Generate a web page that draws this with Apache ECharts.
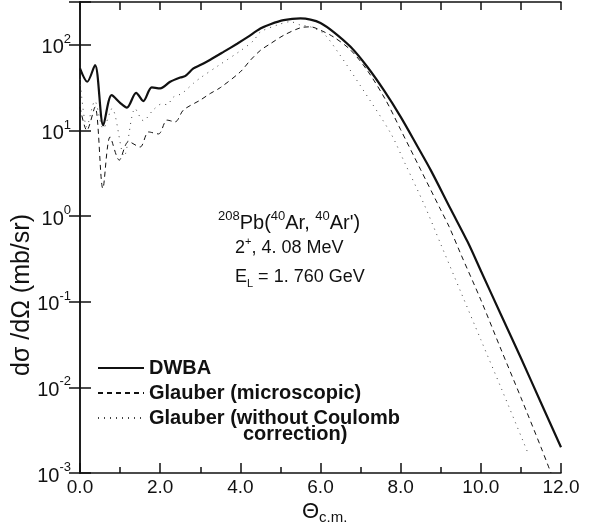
<!DOCTYPE html>
<html><head><meta charset="utf-8">
<script src="https://cdn.jsdelivr.net/npm/echarts@6/dist/echarts.min.js"></script>
<style>html,body{margin:0;padding:0;background:#fff}#c{width:608px;height:529px}</style>
</head><body><div id="c"></div>
<script>
// ---- data ----
const dwbaTheta = [0.0,0.18,0.375,0.58,0.79,1.0,1.17,1.4,1.58,1.79,2.0,2.25,2.5,2.62,2.83,3.0,3.25,3.58,3.92,4.17,4.5,4.75,5.08,5.5,5.75,6.0,6.33,6.75,7.17,7.58,8.0,8.42,8.75,9.25,9.67,10.0,10.5,11.0,11.5,12.0];
const dwbaValue = [53,37,58,11.5,25.8,21,18.5,27.5,22,31.8,31,37,41.5,43,52.9,58,67,82.6,103,122,155,174,194,203,197,180,141,94.6,55,29.5,14.4,6.5,3.44,1.2,0.5,0.23,0.071,0.022,0.0066,0.002];

const glauberTheta = [0.0,0.17,0.375,0.57,0.75,0.98,1.21,1.5,1.71,1.96,2.17,2.375,2.58,3.0,3.25,3.5,4.0,4.25,4.5,4.75,5.08,5.5,5.75,6.0,6.33,6.75,7.17,7.63,8.0,8.5,9.0,9.21,9.5,10.0,10.5,11.0,11.5,11.75];
const glauberValue = [18.8,10,18.8,2.1,8.4,4.5,7.4,6.4,9.6,9.1,13.2,12.6,17.3,22.6,27,31.6,48.3,66,86,103,129,158,162,148,123,87,50,22.5,10.2,3.47,1.18,0.75,0.36,0.105,0.028,0.0076,0.002,0.001];

const noCoulTheta = [0.0,0.17,0.37,0.58,0.8,1.1,1.375,1.58,1.83,2.04,2.17,2.33,2.54,2.83,3.0,3.46,4.0,4.33,4.5,4.92,5.25,5.5,5.75,6.08,6.46,7.0,7.75,8.1,8.6,9.0,9.5,10.0,10.5,11.08,11.2];
const noCoulValue = [40,11,22,10.5,18,5,18,13,17.4,20.4,20,24.5,27,35.5,41,57.5,85,112,141,170,186,170,162,135,79,33,9.3,4.2,1.32,0.47,0.13,0.036,0.01,0.0022,0.0016];

const seriesNames = ['DWBA','Glauber (microscopic)','Glauber (without Coulomb'];
const xTickLabels = ['0.0','2.0','4.0','6.0','8.0','10.0','12.0'];
const yTickExponents = ['-3','-2','-1','0','1','2'];

const FONT = '"Liberation Sans", Arial, Helvetica, sans-serif';
const INK = '#111';

function pairs(t, v){ return t.map((x,i)=>[x, v[i]]); }

const chart = echarts.init(document.getElementById('c'), null, {renderer:'canvas'});

const yLabelFmt = function(val){
  const l = Math.log10(val);
  const e = Math.round(l);
  if (Math.abs(l - e) > 1e-6) return '';
  const s = String(e);
  if (yTickExponents.indexOf(s) < 0) return '';
  return '{b|10}{s|' + s + '}';
};

const option = {
  backgroundColor:'#fff',
  animation:false,
  grid:{left:80, right:47, top:2, bottom:56},
  xAxis:[
    {type:'value', min:0, max:12, interval:2, position:'bottom',
     axisLine:{show:true, lineStyle:{color:INK, width:1.5}},
     axisTick:{show:true, inside:true, length:10, lineStyle:{color:INK, width:1.5}},
     minorTick:{show:true, splitNumber:2, length:6, lineStyle:{color:INK, width:1.5}},
     splitLine:{show:false}, minorSplitLine:{show:false},
     axisLabel:{fontSize:19, fontFamily:FONT, color:INK, margin:5,
       formatter:function(v){ const i = Math.round(v/2); return xTickLabels[i] || ''; }}
    },
    {type:'value', min:0, max:12, interval:1, position:'top',
     axisLine:{show:true, lineStyle:{color:INK, width:1.5}},
     axisTick:{show:true, inside:true, length:8, lineStyle:{color:INK, width:1.5}},
     splitLine:{show:false}, axisLabel:{show:false}}
  ],
  yAxis:[
    {type:'log', logBase:10, min:0.001, max:316, position:'left',
     axisLine:{show:true, lineStyle:{color:INK, width:1.5}},
     axisTick:{show:true, inside:true, length:11, lineStyle:{color:INK, width:1.5}},
     splitLine:{show:false}, minorTick:{show:false},
     axisLabel:{margin:9, padding:[6,0,0,0], formatter:yLabelFmt,
       rich:{ b:{fontSize:20, fontFamily:FONT, color:INK, lineHeight:30},
              s:{fontSize:13, fontFamily:FONT, color:INK, lineHeight:13, verticalAlign:'top'} }}
    },
    {type:'log', logBase:10, min:0.001, max:316, position:'right',
     axisLine:{show:true, lineStyle:{color:INK, width:1.5}},
     axisTick:{show:true, inside:true, length:11, lineStyle:{color:INK, width:1.5}},
     splitLine:{show:false}, axisLabel:{show:false}}
  ],
  legend:{
    orient:'vertical', left:97, top:358, padding:0, itemWidth:46, itemHeight:10, itemGap:5,
    itemStyle:{color:'rgba(0,0,0,0)', borderWidth:0, opacity:0},
    textStyle:{fontSize:20, fontWeight:'bold', fontFamily:FONT, color:INK, lineHeight:18},
    data:seriesNames
  },
  series:[
    {name:seriesNames[0], type:'line', xAxisIndex:0, yAxisIndex:0, showSymbol:false, symbol:'none', smooth:0.3,
     lineStyle:{color:INK, width:2.2, type:'solid'}, itemStyle:{color:INK},
     data:pairs(dwbaTheta, dwbaValue)},
    {name:seriesNames[1], type:'line', xAxisIndex:0, yAxisIndex:0, showSymbol:false, symbol:'none', smooth:0.3,
     lineStyle:{color:INK, width:1, type:[5,4]}, itemStyle:{color:INK},
     data:pairs(glauberTheta, glauberValue)},
    {name:seriesNames[2], type:'line', xAxisIndex:0, yAxisIndex:0, showSymbol:false, symbol:'none', smooth:0.3,
     lineStyle:{color:'#444', width:1, type:[1,5]}, itemStyle:{color:'#444'},
     data:pairs(noCoulTheta, noCoulValue)}
  ],
  graphic:[
    {type:'text', x:22, y:295, rotation:Math.PI/2,
     style:{text:'dσ /dΩ (mb/sr)', font:'25px '+FONT, fill:INK, align:'center', verticalAlign:'middle'}},
    {type:'text', x:302, y:512,
     style:{text:'{t|Θ}{u|c.m.}', fill:INK, align:'left', verticalAlign:'middle',
       rich:{t:{fontSize:22, fontFamily:FONT, color:INK, lineHeight:26},
             u:{fontSize:15, fontFamily:FONT, color:INK, lineHeight:15, verticalAlign:'bottom'}}}},
    {type:'text', x:218, y:223,
     style:{text:"{p|208}{n|Pb(}{p|40}{n|Ar, }{p|40}{n|Ar')}", fill:INK, align:'left', verticalAlign:'middle',
       rich:{n:{fontSize:20, fontFamily:FONT, color:INK, lineHeight:26},
             p:{fontSize:13, fontFamily:FONT, color:INK, lineHeight:13, verticalAlign:'top'}}}},
    {type:'text', x:235, y:248,
     style:{text:"{n|2}{p|+}{n|, 4. 08 MeV}", fill:INK, align:'left', verticalAlign:'middle',
       rich:{n:{fontSize:18, fontFamily:FONT, color:INK, lineHeight:24},
             p:{fontSize:11, fontFamily:FONT, color:INK, lineHeight:11, verticalAlign:'top'}}}},
    {type:'text', x:235, y:277,
     style:{text:"{n|E}{q|L}{n| = 1. 760 GeV}", fill:INK, align:'left', verticalAlign:'middle',
       rich:{n:{fontSize:18, fontFamily:FONT, color:INK, lineHeight:24},
             q:{fontSize:11, fontFamily:FONT, color:INK, lineHeight:11, verticalAlign:'bottom'}}}},
    {type:'text', x:243, y:434,
     style:{text:'correction)', font:'bold 20px '+FONT, fill:INK, align:'left', verticalAlign:'middle'}}
  ]
};
chart.setOption(option);
</script>
</body></html>
